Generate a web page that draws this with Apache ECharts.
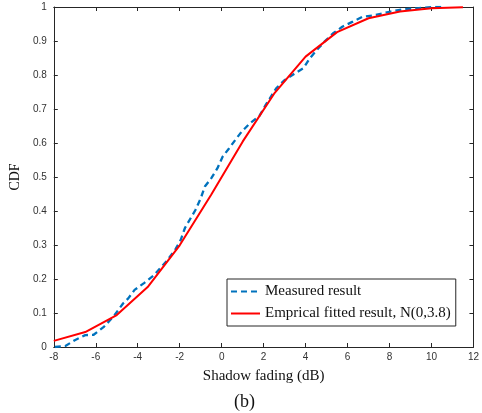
<!DOCTYPE html>
<html><head><meta charset="utf-8">
<script src="https://cdn.jsdelivr.net/npm/echarts@6/dist/echarts.min.js"></script>
<style>html,body{margin:0;padding:0;background:#fff}#c{width:482px;height:413px}</style>
</head><body><div id="c"></div>
<script>
const measuredX = [-7.95,-7.45,-7.0,-6.5,-6.1,-5.6,-5.1,-4.7,-4.45,-4.15,-3.7,-3.25,-2.63,-2.2,-1.95,-1.75,-1.25,-1.0,-0.8,-0.5,-0.2,0.05,0.35,0.65,0.95,1.35,1.8,2.1,2.6,3.0,3.45,3.9,4.2,4.6,4.9,5.3,5.75,6.25,6.7,7.3,8.0,8.6,9.3,10.0,10.5];
const measuredY = [0,0.003,0.02,0.035,0.036,0.06,0.094,0.128,0.143,0.168,0.188,0.21,0.252,0.288,0.315,0.35,0.403,0.437,0.472,0.496,0.526,0.56,0.584,0.609,0.633,0.658,0.68,0.712,0.761,0.785,0.803,0.82,0.849,0.878,0.898,0.922,0.942,0.957,0.971,0.976,0.986,0.993,0.996,1.0,1.0];
const fittedX = [-8,-6.5,-5,-3.5,-2,-0.5,1,2.5,4,5.5,7,8.5,10,11.5];
const fittedY = [0.018,0.044,0.094,0.178,0.299,0.448,0.604,0.745,0.854,0.926,0.967,0.987,0.996,0.999];
const seriesNames = ['Measured result','Emprical fitted result, N(0,3.8)'];
const xTitle = 'Shadow fading (dB)';
const yTitle = 'CDF';
const caption = '(b)';

const zip = (a,b)=>a.map((v,i)=>[v,b[i]]);
const axisCol = '#262626';
const serif = '"Liberation Serif","DejaVu Serif",serif';
const sans = '"Liberation Sans",Arial,sans-serif';
const chart = echarts.init(document.getElementById('c'), null, {renderer:'canvas'});
const baseAxis = {
  axisLine:{show:true,onZero:false,lineStyle:{color:axisCol,width:1}},
  axisTick:{show:true,inside:true,length:4,lineStyle:{color:axisCol,width:1}},
  splitLine:{show:false}
};
chart.setOption({
  animation:false,
  backgroundColor:'#fff',
  grid:{left:46,right:7,top:7,bottom:66,containLabel:false},
  xAxis:[
    Object.assign({type:'value',min:-8,max:12,interval:2,position:'bottom',
      name:xTitle,nameLocation:'middle',nameGap:22,
      nameTextStyle:{fontFamily:serif,fontSize:15,color:'#111'},
      axisLabel:{fontFamily:sans,fontSize:10,color:'#333',margin:5}},baseAxis),
    Object.assign({type:'value',min:-8,max:12,interval:2,position:'top',axisLabel:{show:false}},baseAxis)
  ],
  yAxis:[
    Object.assign({type:'value',min:0,max:1,interval:0.1,position:'left',
      name:yTitle,nameLocation:'middle',nameGap:30,nameRotate:90,
      nameTextStyle:{fontFamily:serif,fontSize:14,color:'#111'},
      axisLabel:{fontFamily:sans,fontSize:10,color:'#333',margin:7,
        formatter:v=>String(Math.round(v*10)/10)}},baseAxis),
    Object.assign({type:'value',min:0,max:1,interval:0.1,position:'right',axisLabel:{show:false}},baseAxis)
  ],
  legend:{
    orient:'vertical',left:227,top:279,
    itemWidth:29,itemHeight:13,itemGap:7,
    padding:[5,5,5,3],
    borderColor:axisCol,borderWidth:1,backgroundColor:'#fff',
    itemStyle:{opacity:0},
    textStyle:{fontFamily:serif,fontSize:15,color:'#111'},
    data:seriesNames
  },
  graphic:[{type:'text',left:234,top:393,
    style:{text:caption,fontFamily:serif,fontSize:18,fill:'#111'}}],
  series:[
    {name:seriesNames[0],type:'line',data:zip(measuredX,measuredY),symbol:'none',
     lineStyle:{color:'#0072BD',width:2.3,type:[6,4]},itemStyle:{color:'#0072BD'},z:3},
    {name:seriesNames[1],type:'line',data:zip(fittedX,fittedY),symbol:'none',
     lineStyle:{color:'#FF0000',width:2},itemStyle:{color:'#FF0000'},z:4}
  ]
});
</script></body></html>
